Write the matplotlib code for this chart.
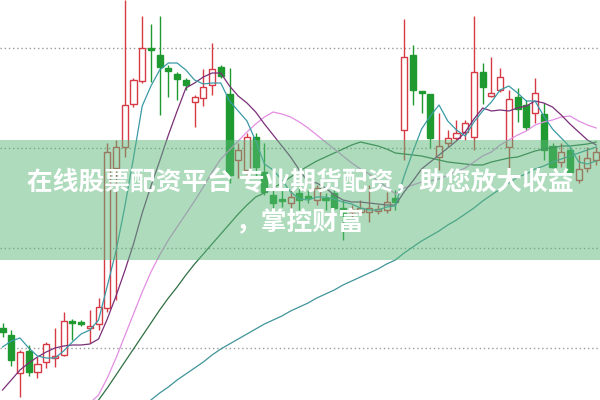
import matplotlib
matplotlib.use("Agg")
import matplotlib.pyplot as plt
from matplotlib.patches import Rectangle
import numpy as np

# candle values, in chart units counted from the top (axis is inverted)
opens = [328, 335, 373, 351, 372, 362, 358, 355, 321, 322, 328, 324, 308, 168, 147, 104, 81, 48, 55, 68,
         74, 80, 102, 98, 85, 67, 94, 160, 170, 137, 172, 195, 199, 203, 193, 196, 200, 198, 193, 208,
         212, 212, 212, 210, 210, 198, 130, 55, 91, 94, 157, 143, 138, 132, 137, 72, 96, 90, 147, 97,
         105, 113, 114, 146, 162, 150, 180, 168, 160]
closes = [332, 360, 352, 372, 364, 344, 356, 321, 323, 324, 326, 307, 152, 147, 105, 80, 48, 50, 67, 71,
          79, 85, 97, 87, 69, 76, 175, 150, 137, 167, 192, 203, 201, 197, 200, 198, 188, 200, 208, 214,
          210, 208, 208, 209, 202, 202, 57, 90, 93, 138, 146, 138, 133, 123, 72, 87, 93, 77, 99, 109,
          127, 93, 150, 167, 152, 172, 169, 158, 152]
highs = [323, 330, 350, 345, 357, 342, 328, 312, 319, 320, 310, 298, 143, 140, 0, 78, 16, 24, 16, 65,
         72, 78, 95, 69, 43, 65, 68, 143, 133, 133, 143, 190, 190, 190, 185, 190, 185, 193, 190, 200,
         205, 200, 185, 205, 192, 190, 19, 45, 91, 94, 113, 130, 120, 120, 16, 63, 57, 68, 90, 88,
         100, 78, 103, 143, 143, 147, 155, 147, 147]
lows = [337, 366, 397, 376, 378, 368, 367, 356, 340, 326, 343, 330, 312, 300, 157, 107, 83, 82, 115, 97,
        100, 90, 127, 106, 95, 78, 183, 178, 177, 177, 195, 210, 207, 210, 210, 203, 205, 210, 210, 240,
        218, 215, 222, 214, 213, 210, 160, 105, 113, 148, 170, 147, 140, 140, 150, 104, 97, 92, 168, 122,
        130, 123, 160, 168, 167, 173, 183, 172, 165]

# moving average lines, same units
ma5 = [347, 341, 338, 348, 356, 358, 358, 351, 342, 334, 330, 320, 286, 251, 207, 158, 106, 86, 70, 63,
       63, 70, 80, 84, 83, 83, 101, 111, 121, 141, 164, 170, 180, 192, 199, 200, 197, 197, 199, 202,
       204, 208, 210, 210, 207, 206, 176, 152, 129, 116, 105, 121, 130, 136, 122, 111, 102, 90, 86, 93,
       101, 101, 116, 129, 138, 147, 162, 164, 161]
ma10 = [390, 380, 370, 363, 357, 352, 348, 346, 345, 345, 344, 339, 319, 296, 271, 244, 213, 186, 161, 135,
        111, 88, 83, 77, 73, 73, 86, 96, 103, 112, 124, 135, 146, 157, 170, 182, 183, 188, 195, 200,
        202, 202, 203, 204, 205, 205, 192, 181, 169, 162, 155, 148, 141, 132, 119, 108, 111, 110, 111, 108,
        106, 101, 103, 107, 115, 124, 132, 140, 145]
ma20 = [470, 462, 455, 447, 440, 433, 427, 421, 415, 409, 403, 395, 378, 358, 336, 314, 292, 272, 255, 240,
        227, 214, 201, 187, 172, 159, 150, 141, 132, 124, 117, 112, 114, 117, 122, 128, 135, 142, 149, 156,
        163, 169, 174, 181, 187, 194, 188, 185, 182, 181, 179, 175, 172, 168, 162, 156, 152, 145, 140, 135,
        131, 125, 122, 120, 117, 116, 121, 125, 128]
ma30 = [500, 492, 484, 476, 468, 460, 452, 443, 433, 423, 412, 400, 388, 375, 362, 349, 336, 323, 310, 298,
        287, 275, 264, 254, 244, 234, 224, 214, 205, 197, 193, 188, 183, 177, 171, 166, 161, 157, 153, 149,
        145, 142, 144, 146, 149, 153, 154, 155, 156, 158, 160, 162, 163, 164, 165, 165, 162, 160, 158, 157,
        154, 151, 149, 148, 146, 146, 145, 144, 142]
ma60 = [458, 457, 456, 454, 453, 449, 448, 445, 443, 441, 439, 436, 431, 426, 420, 413, 407, 400, 393, 387,
        380, 374, 368, 362, 355, 349, 344, 339, 334, 329, 324, 320, 316, 311, 307, 303, 298, 294, 290, 285,
        281, 277, 273, 269, 264, 260, 253, 247, 241, 236, 231, 225, 220, 214, 208, 201, 195, 189, 183, 177,
        174, 169, 166, 162, 159, 156, 153, 150, 147]

grid_levels = [48, 148, 248, 348]
line1 = "在线股票配资平台 专业期货配资，助您放大收益"
line2 = "，掌控财富"

RED = "#d63a44"
GREEN = "#1f9a30"

fig = plt.figure(figsize=(6, 4), dpi=100)
ax = fig.add_axes([0, 0, 1, 1])
ax.set_xlim(-0.29, 68.44)
ax.set_ylim(400, 0)
ax.axis("off")

for lv in grid_levels:
    ax.axhline(lv, color="#9a9a9a", lw=1, ls=(0, (1, 2)), zorder=1)

x = np.arange(len(opens))
for i in x:
    o, c = opens[i], closes[i]
    rising = c <= o  # smaller value = higher price
    col = RED if rising else GREEN
    ax.vlines(i, highs[i], lows[i], color=col, lw=1, zorder=2)
    top, h = min(o, c), max(abs(o - c), 1.5)
    if rising:
        ax.add_patch(Rectangle((i - 0.35, top), 0.7, h, facecolor="white", edgecolor=col, lw=1, zorder=3))
    else:
        ax.add_patch(Rectangle((i - 0.35, top), 0.7, h, facecolor=col, edgecolor=col, lw=1, zorder=3))

ax.plot(x, ma60, color="#3f9499", lw=0.9, zorder=4)
ax.plot(x, ma30, color="#2f7043", lw=0.9, zorder=4)
ax.plot(x, ma20, color="#e38ee3", lw=0.9, zorder=4)
ax.plot(x, ma10, color="#7a2f78", lw=0.9, zorder=4)
ax.plot(x, ma5, color="#3a9aa6", lw=0.9, zorder=4)

# translucent banner with the caption
ax.axhspan(140, 260, color="#5cb87a", alpha=0.5, lw=0, zorder=5)
font = ["Noto Sans CJK SC", "DejaVu Sans"]
fig.text(0.5, 1 - 183 / 400, line1, ha="center", va="center", color="white",
         fontsize=18.5, fontweight="bold", family=font, zorder=6)
fig.text(0.5, 1 - 222 / 400, line2, ha="center", va="center", color="white",
         fontsize=18.5, fontweight="bold", family=font, zorder=6)

fig.savefig("out.png", dpi=100)
